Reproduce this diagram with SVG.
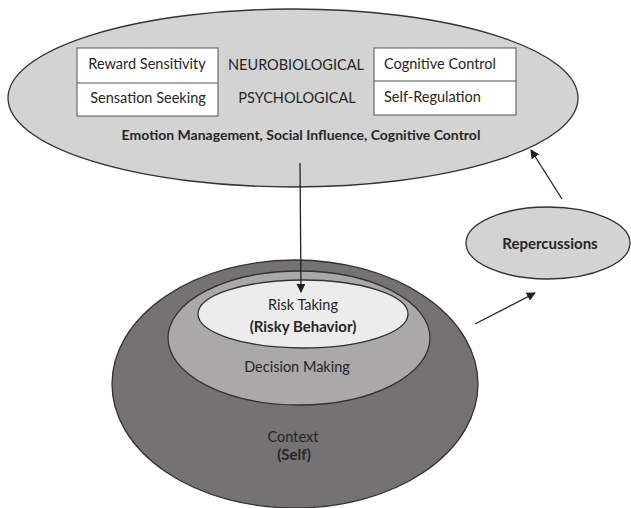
<svg xmlns="http://www.w3.org/2000/svg" width="631" height="508" viewBox="0 0 631 508">
<defs>
<marker id="ah" viewBox="0 0 10 10" refX="9" refY="5" markerWidth="9" markerHeight="9" markerUnits="userSpaceOnUse" orient="auto">
<path d="M0,0 L10,5 L0,10 z" fill="#222"/>
</marker>
<style>
text{font-family:Lato,"Liberation Sans",Arial,sans-serif;fill:#262626;}
.r{font-size:14.5px;}
.b{font-weight:bold;}
.m{text-anchor:middle;}
.ell{stroke:#333;stroke-width:1.3;}
.box{fill:#fff;stroke:#555;stroke-width:1;}
.c{stroke:#222;stroke-width:1.3;fill:none;marker-end:url(#ah);}
</style>
</defs>
<rect width="631" height="508" fill="#fff"/>
<g id="influences">
<ellipse class="ell" cx="293" cy="98" rx="285" ry="89" fill="#d3d3d3"/>
<rect class="box" x="77" y="48" width="141" height="68"/>
<line x1="77" y1="83" x2="218" y2="83" stroke="#555"/>
<rect class="box" x="374" y="48" width="142" height="67"/>
<line x1="374" y1="81" x2="516" y2="81" stroke="#555"/>
<text class="r m" x="147" y="69">Reward Sensitivity</text>
<text class="r m" x="148" y="103">Sensation Seeking</text>
<text class="r m" x="296" y="70">NEUROBIOLOGICAL</text>
<text class="r m" x="297" y="103">PSYCHOLOGICAL</text>
<text class="r" x="384" y="69">Cognitive Control</text>
<text class="r" x="384" y="102">Self-Regulation</text>
<text class="b m" x="301" y="140" font-size="14">Emotion Management, Social Influence, Cognitive Control</text>
</g>
<g id="repercussions">
<ellipse class="ell" cx="548" cy="243" rx="82" ry="36" fill="#d3d3d3"/>
<text class="b m" x="550" y="249" font-size="15">Repercussions</text>
</g>
<g id="context">
<ellipse class="ell" cx="295" cy="384" rx="183" ry="124" fill="#767172"/>
<text class="r m" x="293" y="442">Context</text>
<text class="b m" x="294" y="460" font-size="15">(Self)</text>
</g>
<g id="decision-making">
<ellipse class="ell" cx="299" cy="338" rx="131" ry="67" fill="#aaa8a9"/>
<text class="r m" x="297" y="372">Decision Making</text>
</g>
<g id="risk-taking">
<ellipse class="ell" cx="303" cy="314" rx="105" ry="34" fill="#ececec"/>
<text class="r m" x="303" y="310">Risk Taking</text>
<text class="b m" x="303" y="332" font-size="15">(Risky Behavior)</text>
</g>
<g id="connectors">
<line class="c" x1="300" y1="163" x2="301" y2="292"/>
<line class="c" x1="475" y1="324" x2="535" y2="293"/>
<line class="c" x1="562" y1="199" x2="531" y2="150"/>
</g>
</svg>
